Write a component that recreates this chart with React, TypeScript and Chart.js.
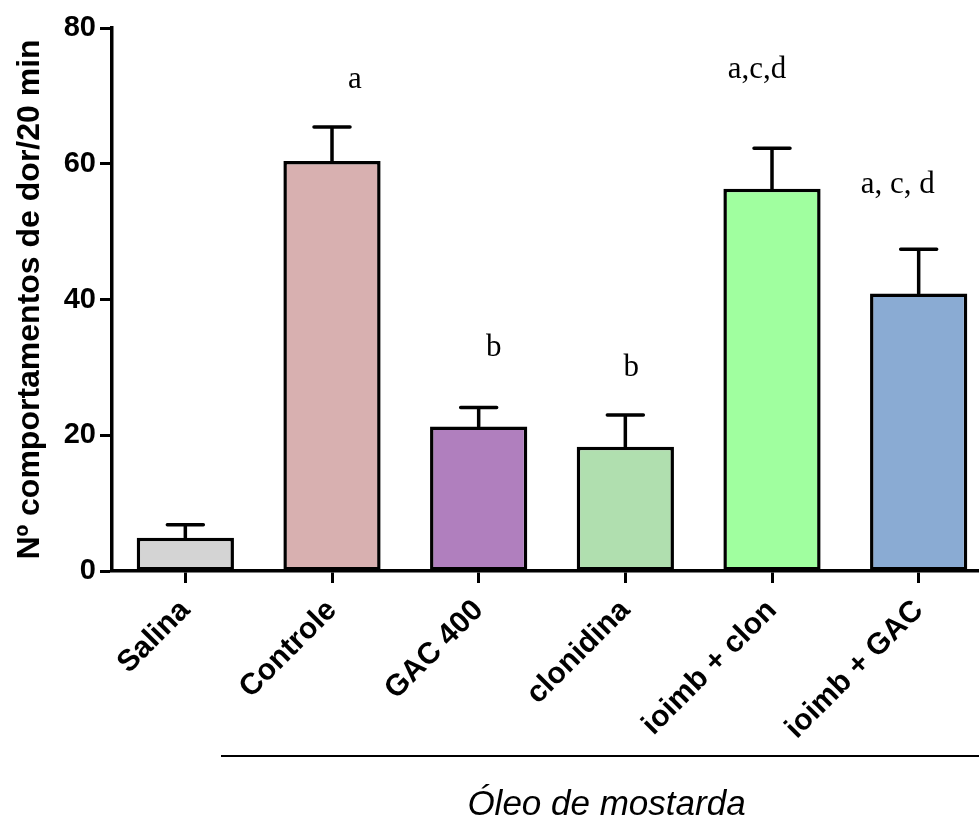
import React, { useEffect, useRef } from 'react';
import { Chart, registerables } from 'chart.js';

Chart.register(...registerables);

// ---- data ----
const categories = ['Salina', 'Controle', 'GAC 400', 'clonidina', 'ioimb + clon', 'ioimb + GAC'];
const means = [4.9, 60.4, 21.3, 18.3, 56.3, 40.9];
const errors = [1.9, 5.0, 2.8, 4.7, 6.0, 6.5];
const barColors = ['#d4d4d4', '#d8b0b0', '#b07fbe', '#b0dfaf', '#a0ff9f', '#8aabd3'];
const sigLetters = ['', 'a', 'b', 'b', 'a,c,d', 'a, c, d'];
const sigLevels = [0, 72.3, 32.9, 29.9, 73.8, 56.9];
const yTickValues = [0, 20, 40, 60, 80];
const yTitle = 'Nº comportamentos de dor/20 min';
const groupLabel = 'Óleo de mostarda';

// label horizontal nudges (px), style only
const sigNudge = [0, 23, 15, 6, -15, -21];

const W = 992;
const H = 819;

const errorBarPlugin = {
  id: 'errorBars',
  afterDatasetsDraw(chart: any) {
    const ctx = chart.ctx;
    const y = chart.scales.y;
    const meta = chart.getDatasetMeta(0);
    ctx.save();
    ctx.strokeStyle = '#000';
    ctx.lineWidth = 3.5;
    ctx.lineCap = 'round';
    meta.data.forEach((bar: any, i: number) => {
      const top = y.getPixelForValue(means[i] + errors[i]);
      ctx.beginPath();
      ctx.moveTo(bar.x, bar.y);
      ctx.lineTo(bar.x, top);
      ctx.moveTo(bar.x - 18, top);
      ctx.lineTo(bar.x + 18, top);
      ctx.stroke();
    });
    ctx.restore();
  },
};

const annotationPlugin = {
  id: 'annotations',
  afterDraw(chart: any) {
    const ctx = chart.ctx;
    const x = chart.scales.x;
    const y = chart.scales.y;
    const area = chart.chartArea;
    ctx.save();
    ctx.fillStyle = '#000';
    ctx.font = '31px "Liberation Serif", "Times New Roman", serif';
    ctx.textAlign = 'center';
    ctx.textBaseline = 'middle';
    sigLetters.forEach((s, i) => {
      if (!s) return;
      ctx.fillText(s, x.getPixelForValue(i) + sigNudge[i], y.getPixelForValue(sigLevels[i]));
    });
    const x0 = area.left + 109;
    const x1 = chart.width;
    const ly = area.bottom + 185;
    ctx.strokeStyle = '#000';
    ctx.lineWidth = 2;
    ctx.beginPath();
    ctx.moveTo(x0, ly);
    ctx.lineTo(x1, ly);
    ctx.stroke();
    ctx.font = 'italic 35px "Liberation Sans", Arial, sans-serif';
    ctx.textBaseline = 'alphabetic';
    ctx.fillText(groupLabel, (x0 + x1) / 2, area.bottom + 244);
    ctx.restore();
  },
};

export default function App() {
  const ref = useRef<HTMLCanvasElement>(null);
  useEffect(() => {
    if (!ref.current) return;
    const chart = new Chart(ref.current, {
      type: 'bar',
      data: {
        labels: categories,
        datasets: [
          {
            data: means,
            backgroundColor: barColors,
            borderColor: '#000',
            borderWidth: 3.5,
            borderSkipped: false,
            barPercentage: 0.663,
            categoryPercentage: 1,
          },
        ],
      },
      options: {
        responsive: false,
        animation: false,
        devicePixelRatio: 1,
        layout: { padding: { top: 28, right: 0, left: 0, bottom: 0 } },
        plugins: {
          legend: { display: false },
          tooltip: { enabled: false },
        },
        scales: {
          x: {
            offset: true,
            grid: {
              offset: false,
              drawOnChartArea: false,
              tickLength: 12,
              tickWidth: 3,
              tickColor: '#000',
            },
            border: { color: '#000', width: 3.5 },
            ticks: {
              color: '#000',
              maxRotation: 45,
              minRotation: 45,
              padding: 10,
              font: { family: '"Liberation Sans", Arial, sans-serif', size: 30, weight: 'bold' },
            },
            afterFit(scale: any) {
              scale.height = 248;
            },
          },
          y: {
            min: 0,
            max: 80,
            afterBuildTicks(scale: any) {
              scale.ticks = yTickValues.map((v) => ({ value: v }));
            },
            grid: {
              drawOnChartArea: false,
              tickLength: 12,
              tickWidth: 3,
              tickColor: '#000',
            },
            border: { color: '#000', width: 3.5 },
            ticks: {
              color: '#000',
              padding: 4,
              font: { family: '"Liberation Sans", Arial, sans-serif', size: 29, weight: 'bold' },
            },
            title: {
              display: true,
              text: yTitle,
              color: '#000',
              padding: { top: 11, bottom: 4 },
              font: { family: '"Liberation Sans", Arial, sans-serif', size: 32, weight: 'bold' },
            },
            afterFit(scale: any) {
              scale.width = 112;
            },
          },
        },
      },
      plugins: [errorBarPlugin, annotationPlugin],
    });
    return () => chart.destroy();
  }, []);
  return (
    <div style={{ position: 'fixed', left: 0, top: 0, width: 979, height: 819, overflow: 'hidden', background: '#fff' }}>
      <canvas ref={ref} width={W} height={H} style={{ display: 'block', width: W, height: H }} />
    </div>
  );
}
